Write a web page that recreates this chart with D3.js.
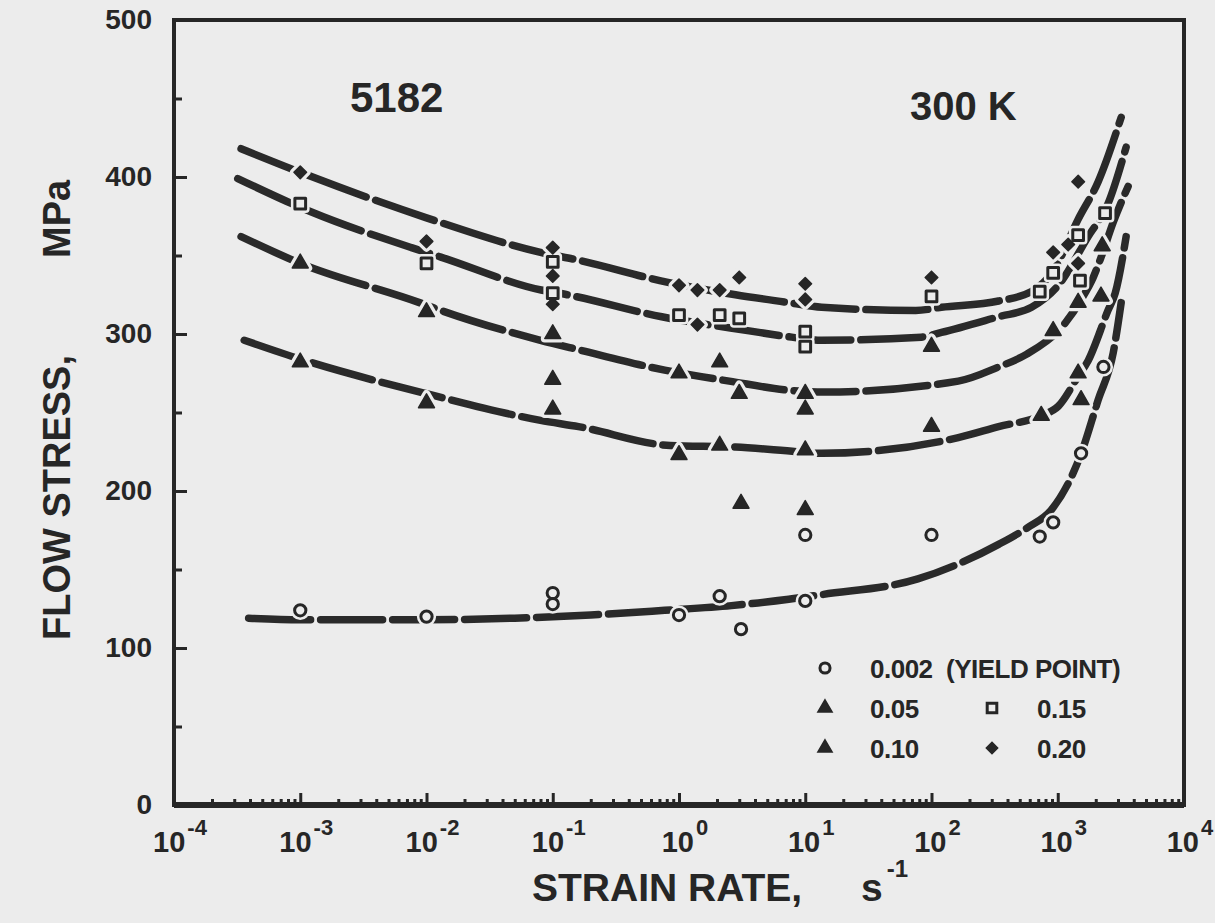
<!DOCTYPE html>
<meta charset="utf-8">
<style>
  body {
    margin: 0;
    background: #ececec;
  }

  svg {
    display: block;
  }

  text {
    font-family: "Liberation Sans", Arial, Helvetica, sans-serif;
    font-weight: bold;
    fill: #262626;
  }

  .axis path.domain {
    display: none;
  }

  .axis line {
    stroke: #262626;
    stroke-width: 3;
  }

  .frame {
    fill: none;
    stroke: #262626;
    stroke-width: 4;
  }

  .curve {
    fill: none;
    stroke: #2a2a2a;
    stroke-width: 7.5;
    stroke-linecap: round;
    stroke-dasharray: 62 10;
  }
</style>
<body>
  <div id="chart"></div>
  <script src="https://d3js.org/d3.v7.min.js"></script>
  <script>

// strain levels shown in the legend
var levels = ["0.002", "0.05", "0.10", "0.15", "0.20"];
var legendLabels = ["0.002  (YIELD POINT)", "0.05", "0.10", "0.15", "0.20"];

// fitted curves, [strain rate (1/s), flow stress (MPa)]
var curve002 = [[3.9e-4, 119], [1e-3, 118], [0.01, 118], [0.05, 119], [0.2, 121], [0.77, 124],
  [2.6, 127], [7.4, 131], [13.5, 134], [78, 144], [340, 166], [585, 177], [890, 188],
  [1535, 224], [2090, 258], [2750, 288], [3180, 320]];
var curve05 = [[3.6e-4, 296], [1e-3, 284], [0.01, 262], [0.08, 245], [0.16, 241], [0.85, 229],
  [2.8, 228], [8.8, 225], [13.5, 224], [163, 234], [340, 241], [740, 248], [1010, 254],
  [1450, 273], [1740, 283], [2500, 315], [2850, 326], [3480, 362]];
var curve10 = [[3.4e-4, 362], [1e-3, 345], [8.8e-3, 320], [0.013, 315], [0.08, 296], [0.16, 290],
  [0.77, 277], [2.5, 270], [7.8, 264], [14, 263], [163, 270], [340, 279], [564, 287],
  [1146, 307], [1535, 322], [1909, 336], [2207, 349], [2746, 371], [3609, 394]];
var curve15 = [[3.2e-4, 399], [1.2e-3, 378], [7.6e-3, 355], [0.013, 349], [0.081, 328], [0.13, 325],
  [0.73, 311], [3.6, 302], [7.8, 298], [13.5, 296], [83, 298], [120, 301], [340, 311],
  [620, 317], [1010, 331], [1740, 362], [2500, 383], [3480, 419]];
var curve20 = [[3.4e-4, 418], [1e-3, 403], [0.01, 374], [0.08, 352], [0.16, 347], [0.8, 333],
  [2.8, 325], [7.4, 320], [13.5, 317], [75, 315], [120, 317], [340, 321], [620, 327],
  [920, 340], [1450, 373], [2090, 397], [3180, 438]];

// measured points
var points002 = [[1e-3, 124], [1e-2, 120], [0.1, 135], [0.1, 128], [1, 121], [2.1, 133], [3.1, 112],
  [10, 130], [10, 172], [100, 172], [720, 171], [920, 180], [1530, 224], [2300, 279]];
var points05 = [[1e-3, 282], [1e-2, 256], [0.1, 252], [0.1, 271], [1, 223], [2.1, 229], [10, 226],
  [3.1, 192], [10, 188], [100, 241], [740, 248], [1450, 275], [1530, 258]];
var points10 = [[1e-3, 345], [1e-2, 314], [0.1, 300], [1, 275], [2.1, 282], [3.0, 262], [10, 262],
  [10, 252], [100, 292], [920, 302], [1450, 320], [2200, 324], [2250, 356]];
var points15 = [[1e-3, 383], [1e-2, 345], [0.1, 346], [0.1, 326], [1, 312], [2.1, 312], [3.0, 310],
  [10, 301.5], [10, 292], [100, 324], [720, 327], [920, 339], [1450, 363], [1500, 334], [2370, 377]];
var points20 = [[1e-3, 403], [1e-2, 359], [0.1, 355], [0.1, 337], [0.1, 319], [1, 331], [1.4, 328],
  [1.4, 306], [2.1, 328], [3.0, 336], [10, 332], [10, 322], [100, 336], [920, 352], [1210, 357],
  [1450, 345], [1452, 397]];

var yTicks = [0, 100, 200, 300, 400, 500];
var yMinorTicks = [50, 150, 250, 350, 450];
var xDecades = [-4, -3, -2, -1, 0, 1, 2, 3, 4];

var width = 1215,
    height = 923;

var ink = "#262626",
    bg = "#ececec";

var x = d3.scaleLog()
  .domain([1e-4, 1e4])
  .range([174, 1184]);

var y = d3.scaleLinear()
  .domain([0, 500])
  .range([805, 20]);

var svg = d3.select("#chart")
  .append("svg")
  .attr("width", width)
  .attr("height", height);

svg.append("rect")
  .attr("width", width)
  .attr("height", height)
  .attr("fill", bg);

// 0.20 uses a square turned 45 degrees (filled diamond)
var series = [
  {curve: curve002, points: points002, type: d3.symbolCircle, size: 100, filled: false, rot: 0},
  {curve: curve05, points: points05, type: d3.symbolTriangle, size: 110, filled: true, rot: 0},
  {curve: curve10, points: points10, type: d3.symbolTriangle, size: 110, filled: true, rot: 0},
  {curve: curve15, points: points15, type: d3.symbolSquare, size: 115, filled: false, rot: 0},
  {curve: curve20, points: points20, type: d3.symbolSquare, size: 80, filled: true, rot: 45}
];

// ---- axes ----
var minorX = [];
xDecades.slice(0, -1).forEach(function(e) {
  for (var m = 2; m < 10; m++) minorX.push(m * Math.pow(10, e));
});

svg.append("g")
  .attr("class", "axis")
  .attr("transform", "translate(0," + y(0) + ")")
  .call(d3.axisBottom(x).tickValues(minorX).tickSize(-6).tickFormat(""));

svg.append("g")
  .attr("class", "axis")
  .attr("transform", "translate(0," + y(0) + ")")
  .call(d3.axisBottom(x).tickValues(xDecades.map(function(e) { return Math.pow(10, e); }))
    .tickSize(-12).tickFormat(""));

var yAxis = svg.append("g")
  .attr("class", "axis")
  .attr("transform", "translate(" + x(1e-4) + ",0)")
  .call(d3.axisLeft(y).tickValues(yTicks).tickSize(-13).tickPadding(22));

yAxis.selectAll("text")
  .style("font-size", "28px")
  .attr("fill", ink);

svg.append("g")
  .attr("class", "axis")
  .attr("transform", "translate(" + x(1e-4) + ",0)")
  .call(d3.axisLeft(y).tickValues(yMinorTicks).tickSize(-8).tickFormat(""));

// decade labels with superscripts
var xLab = svg.append("g")
  .selectAll("text")
  .data(xDecades)
  .enter().append("text")
  .attr("x", function(d) { return x(Math.pow(10, d)) + 6; })
  .attr("y", 852)
  .attr("text-anchor", "middle")
  .style("font-size", "29px");

xLab.append("tspan").text("10");
xLab.append("tspan")
  .attr("dy", -17)
  .attr("dx", 2)
  .style("font-size", "22px")
  .text(function(d) { return d; });

svg.append("rect")
  .attr("class", "frame")
  .attr("x", x(1e-4))
  .attr("y", y(500))
  .attr("width", x(1e4) - x(1e-4))
  .attr("height", y(0) - y(500));

svg.append("line")
  .attr("x1", x(1e-4)).attr("x2", x(1e4))
  .attr("y1", y(0)).attr("y2", y(0))
  .attr("stroke", ink)
  .attr("stroke-width", 6);

// ---- curves ----
var line = d3.line()
  .x(function(d) { return x(d[0]); })
  .y(function(d) { return y(d[1]); })
  .curve(d3.curveMonotoneX);

svg.append("g")
  .selectAll("path")
  .data(series)
  .enter().append("path")
  .attr("class", "curve")
  .attr("d", function(d) { return line(d.curve); });

// ---- markers (halo first so the lines break around them) ----
function drawMarkers(node, s, halo) {
  node.selectAll("path")
    .data(s.points)
    .enter().append("path")
    .attr("transform", function(d) {
      return "translate(" + x(d[0]) + "," + y(d[1]) + ") rotate(" + s.rot + ")";
    })
    .attr("d", d3.symbol().type(s.type).size(s.size))
    .attr("fill", halo ? bg : (s.filled ? ink : bg))
    .attr("stroke", halo ? bg : ink)
    .attr("stroke-width", halo ? 8 : (s.filled ? 1.5 : 3))
    .attr("stroke-linejoin", "round");
}

series.forEach(function(s) { drawMarkers(svg.append("g"), s, true); });
series.forEach(function(s) { drawMarkers(svg.append("g"), s, false); });

// ---- legend ----
var legendPos = [[0, 0], [0, 1], [0, 2], [1, 1], [1, 2]];
var legend = svg.append("g")
  .selectAll("g")
  .data(levels)
  .enter().append("g")
  .attr("transform", function(d, i) {
    return "translate(" + (825 + legendPos[i][0] * 167) + "," + (668 + legendPos[i][1] * 40) + ")";
  });

legend.append("path")
  .attr("transform", function(d, i) { return "rotate(" + series[i].rot + ")"; })
  .attr("d", function(d, i) {
    return d3.symbol().type(series[i].type).size(series[i].size * 0.8)();
  })
  .attr("fill", function(d, i) { return series[i].filled ? ink : bg; })
  .attr("stroke", ink)
  .attr("stroke-width", function(d, i) { return series[i].filled ? 1.5 : 3; });

legend.append("text")
  .attr("x", 45)
  .attr("y", 10)
  .style("font-size", "26px")
  .style("letter-spacing", "-0.5px")
  .attr("xml:space", "preserve")
  .text(function(d, i) { return legendLabels[i]; });

// ---- titles and annotations ----
svg.append("text")
  .attr("x", 350)
  .attr("y", 112)
  .style("font-size", "42px")
  .text("5182");

svg.append("text")
  .attr("x", 910)
  .attr("y", 120)
  .style("font-size", "40px")
  .text("300 K");

svg.append("text")
  .attr("transform", "translate(70,640) rotate(-90)")
  .style("font-size", "38px")
  .text("FLOW STRESS,");

svg.append("text")
  .attr("transform", "translate(70,258) rotate(-90)")
  .style("font-size", "38px")
  .text("MPa");

svg.append("text")
  .attr("x", 532)
  .attr("y", 901)
  .style("font-size", "39px")
  .text("STRAIN RATE,");

var sUnit = svg.append("text")
  .attr("x", 861)
  .attr("y", 901)
  .style("font-size", "39px");

sUnit.append("tspan").text("s");
sUnit.append("tspan")
  .attr("dy", -24)
  .attr("dx", 4)
  .style("font-size", "24px")
  .text("-1");

    </script>
</body>
